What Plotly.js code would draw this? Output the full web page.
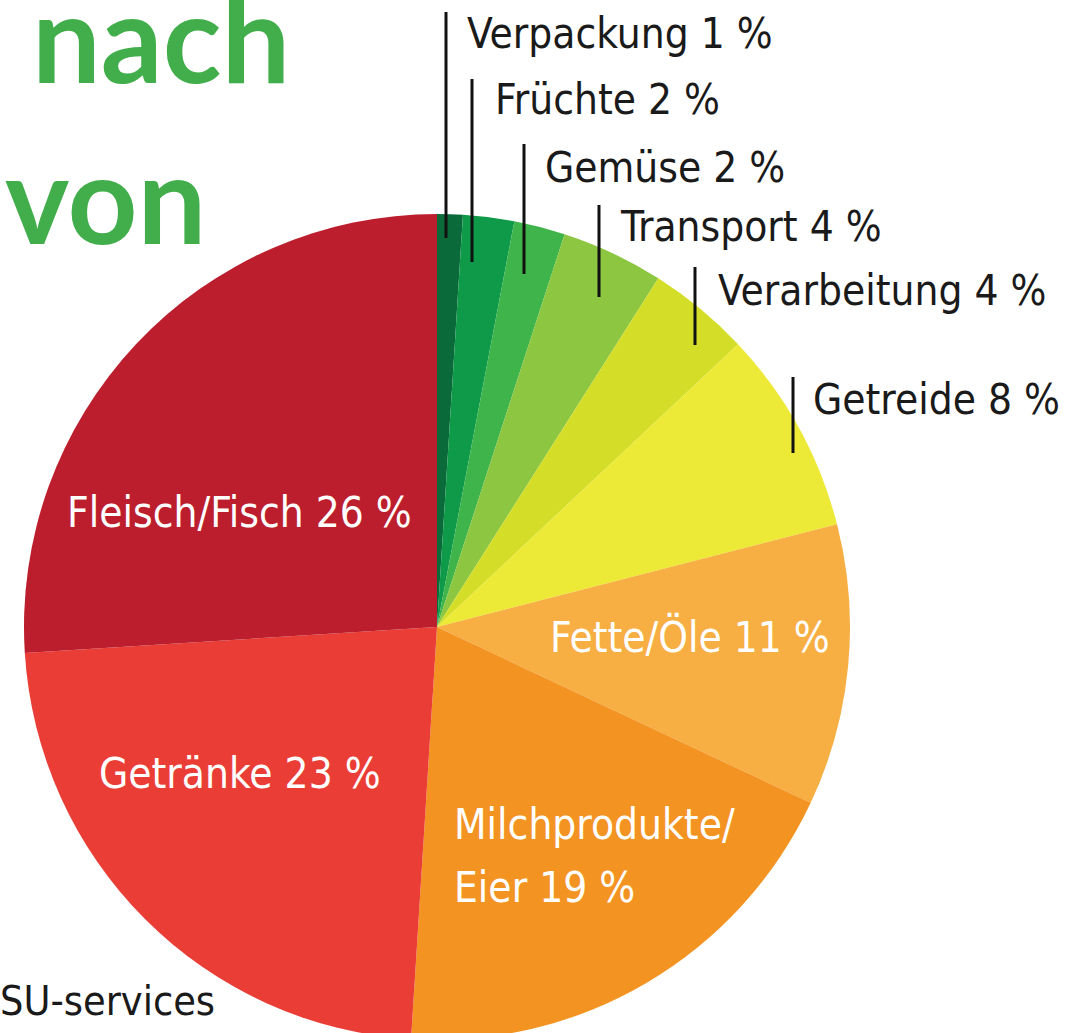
<!DOCTYPE html>
<html>
<head>
<meta charset="utf-8">
<script src="https://cdn.plot.ly/plotly-3.0.1.min.js"></script>
<style>
  html, body { margin: 0; padding: 0; overflow: hidden; background: #ffffff; }
  #chart { width: 1080px; height: 1110px; margin-top: -50px; }
</style>
</head>
<body>
<div id="chart"></div>
<script>
// ---- data ----
const categories = ["Verpackung", "Früchte", "Gemüse", "Transport", "Verarbeitung",
                    "Getreide", "Fette/Öle", "Milchprodukte/<br>Eier", "Getränke", "Fleisch/Fisch"];
const shares = [1, 2, 2, 4, 4, 8, 11, 19, 23, 26];
const sliceColors = ["#0b6a3a", "#0f9a49", "#3fb44a", "#8dc640", "#d4de28",
                     "#ede937", "#f7ae42", "#f39322", "#ea3d36", "#bc1e2d"];
const headingWords = ["nach", "von"];
const sourceText = "SU-services";

// ---- layout constants (page pixels) ----
const W = 1080, H = 1110, O = 50;   // O = part of the plot hidden above the page top
const cx = 437, cy = 627, R = 413;
const px = x => x / W;
const py = y => 1 - (y + O) / H;

// label placement: [x, y(middle of first line), anchor, colour]
const labelPlace = [
  [465, 33, "left", "#1a1a1a"],
  [493, 100, "left", "#1a1a1a"],
  [543, 167, "left", "#1a1a1a"],
  [618, 226, "left", "#1a1a1a"],
  [716, 290, "left", "#1a1a1a"],
  [811, 399, "left", "#1a1a1a"],
  [690, 637, "center", "#ffffff"],
  [452, 824, "left", "#ffffff"],
  [240, 773, "center", "#ffffff"],
  [239, 512, "center", "#ffffff"]
];
const lineGap = 63;
const leaders = [
  [446, 12, 238], [472, 79, 262], [524, 144, 274],
  [599, 205, 297], [695, 267, 345], [793, 377, 453]
];

const labelFont = "Liberation Sans Narrow, DejaVu Sans Condensed, Roboto, sans-serif";
const annotations = [];

categories.forEach((c, i) => {
  const lines = (c + " " + shares[i] + " %").split("<br>");
  lines.forEach((ln, k) => {
    annotations.push({
      xref: "paper", yref: "paper",
      x: px(labelPlace[i][0]), y: py(labelPlace[i][1] + k * lineGap),
      xanchor: labelPlace[i][2], yanchor: "middle",
      showarrow: false,
      text: ln,
      font: { family: labelFont, size: 42, color: labelPlace[i][3] }
    });
  });
});

// heading words (partially cropped title) and source
annotations.push({
  xref: "paper", yref: "paper", x: px(30), y: py(36), xanchor: "left", yanchor: "middle",
  showarrow: false, text: "<b>" + headingWords[0] + "</b>",
  font: { family: "Lato, Open Sans, sans-serif", size: 122, color: "#41ae4b" }
});
annotations.push({
  xref: "paper", yref: "paper", x: px(3), y: py(197), xanchor: "left", yanchor: "middle",
  showarrow: false, text: "<b>" + headingWords[1] + "</b>",
  font: { family: "Lato, Open Sans, sans-serif", size: 122, color: "#41ae4b" }
});
annotations.push({
  xref: "paper", yref: "paper", x: px(-2), y: py(1001), xanchor: "left", yanchor: "middle",
  showarrow: false, text: sourceText,
  font: { family: labelFont, size: 41, color: "#1a1a1a" }
});

const shapes = leaders.map(l => ({
  type: "line", xref: "paper", yref: "paper",
  x0: px(l[0]), x1: px(l[0]), y0: py(l[1]), y1: py(l[2]),
  line: { color: "#111111", width: 3 }
}));

const trace = {
  type: "pie",
  labels: categories,
  values: shares,
  sort: false,
  direction: "clockwise",
  rotation: 0,
  textinfo: "none",
  hoverinfo: "label+percent",
  marker: { colors: sliceColors, line: { width: 0 } },
  domain: {
    x: [(cx - R) / W, (cx + R) / W],
    y: [(H - O - cy - R) / H, (H - O - cy + R) / H]
  },
  showlegend: false
};

const layout = {
  width: W, height: H,
  margin: { l: 0, r: 0, t: 0, b: 0 },
  paper_bgcolor: "#ffffff",
  showlegend: false,
  annotations: annotations,
  shapes: shapes
};

Plotly.newPlot("chart", [trace], layout, { displayModeBar: false, staticPlot: true });
</script>
</body>
</html>
